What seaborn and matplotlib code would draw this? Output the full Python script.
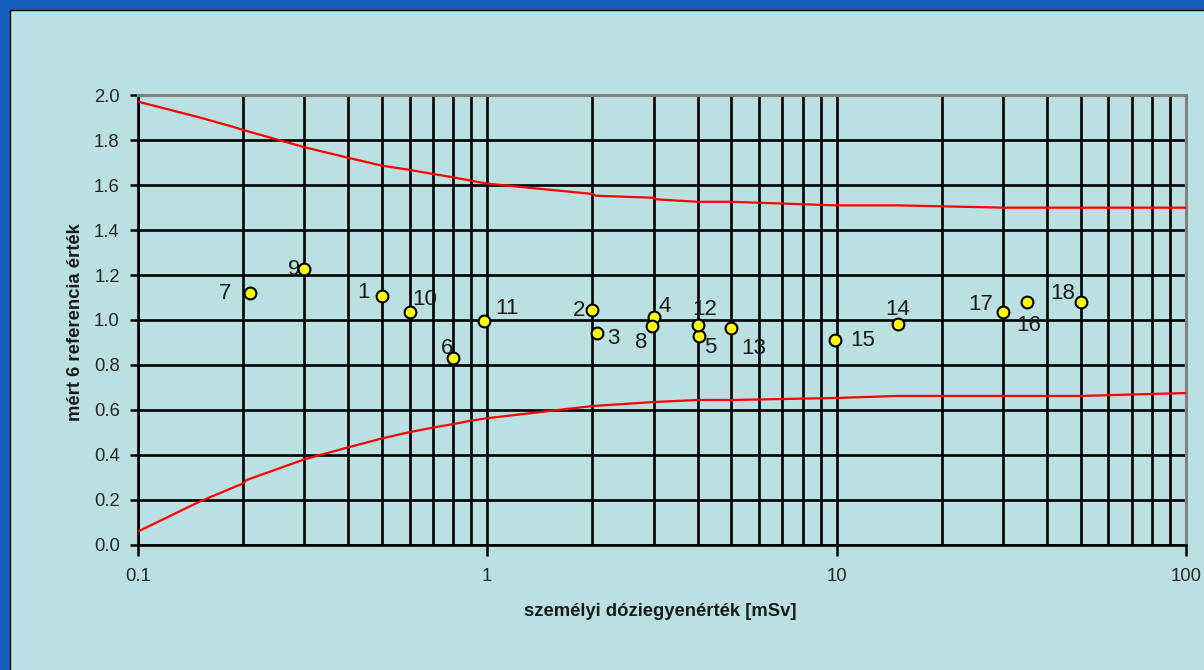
import numpy as np
import pandas as pd
import matplotlib
matplotlib.use("Agg")
import matplotlib.pyplot as plt
from matplotlib.patches import Rectangle
from matplotlib.ticker import LogLocator, FixedLocator, NullFormatter, FuncFormatter
import seaborn as sns

# Measured points: personal dose equivalent vs. reading / reference ratio
point_ids = [str(i) for i in range(1, 19)]
dose_msv = [0.5, 2.0, 2.06, 3.0, 4.04, 0.8, 0.21, 2.97, 0.3, 0.6,
            0.98, 4.0, 5.0, 15.0, 9.9, 35.0, 30.0, 50.0]
ratio = [1.108, 1.044, 0.941, 1.015, 0.929, 0.832, 1.119, 0.975, 1.226, 1.037,
         0.994, 0.978, 0.966, 0.984, 0.912, 1.081, 1.037, 1.081]

# Label offsets (pixels, right / down) for each point number
label_dx = [-18, -13, 16, 11, 11, -6, -25, -11, -10, 15, 23, 7, 22, 0, 28, 2, -23, -18]
label_dy = [-3, 0, 5, -10, 12, -9, 0, 17, 0, -12, -13, -15, 21, -14, 1, 24, -7, -8]

# Upper and lower acceptance limits
upper_x = [0.1, 0.15, 0.19, 0.2, 0.3, 0.4, 0.5, 0.6, 0.7, 0.8, 0.9, 1.0,
           2.0, 2.05, 3.0, 3.05, 4.0, 5.0, 10.0, 15.0, 30.0, 50.0, 100.0]
upper_y = [1.972, 1.902, 1.857, 1.846, 1.769, 1.722, 1.687, 1.668, 1.650, 1.635, 1.620, 1.607,
           1.561, 1.553, 1.544, 1.537, 1.526, 1.526, 1.510, 1.510, 1.500, 1.500, 1.500]
lower_x = [0.1, 0.15, 0.19, 0.2, 0.205, 0.3, 0.4, 0.5, 0.6, 0.7, 0.8, 0.9, 1.0,
           2.0, 3.0, 4.0, 5.0, 10.0, 15.0, 30.0, 50.0, 100.0]
lower_y = [0.058, 0.191, 0.258, 0.272, 0.288, 0.380, 0.433, 0.473, 0.501, 0.521, 0.537, 0.552, 0.563,
           0.617, 0.635, 0.644, 0.644, 0.653, 0.662, 0.662, 0.662, 0.675]

x_ticks = [0.1, 1, 10, 100]
x_tick_labels = ["0.1", "1", "10", "100"]
y_ticks = [0.0, 0.2, 0.4, 0.6, 0.8, 1.0, 1.2, 1.4, 1.6, 1.8, 2.0]

x_label = "személyi dóziegyenérték [mSv]"
y_label = "mért 6 referencia érték"

BORDER_BLUE = "#1560BD"
PANEL = "#BAE0E2"

sns.set_theme(style="white")
plt.rcParams["font.family"] = ["Liberation Sans", "DejaVu Sans"]

W, H = 1204, 670
fig = plt.figure(figsize=(W / 100, H / 100), dpi=100)
fig.patch.set_facecolor(BORDER_BLUE)
fig.patches.append(Rectangle((10 / W, -0.01), 1.02, (H - 10) / H + 0.01,
                             transform=fig.transFigure, facecolor=PANEL,
                             edgecolor="black", linewidth=1.0, zorder=-5))

ax_l, ax_r, ax_t, ax_b = 137.7, 1186, 95.3, 544.7
ax = fig.add_axes([ax_l / W, 1 - ax_b / H, (ax_r - ax_l) / W, (ax_b - ax_t) / H])
ax.set_facecolor(PANEL)

limits = pd.concat([
    pd.DataFrame({"dose": upper_x, "value": upper_y, "limit": "upper"}),
    pd.DataFrame({"dose": lower_x, "value": lower_y, "limit": "lower"}),
])
sns.lineplot(data=limits, x="dose", y="value", units="limit", estimator=None,
             sort=False, color="#FF0000", linewidth=1.6, ax=ax, zorder=3, legend=False)

points = pd.DataFrame({"id": point_ids, "dose": dose_msv, "ratio": ratio})
sns.scatterplot(data=points, x="dose", y="ratio", s=72, color="#FFFF00",
                edgecolor="black", linewidth=1.5, ax=ax, zorder=5, legend=False)

for pid, xv, yv, dx, dy in zip(point_ids, dose_msv, ratio, label_dx, label_dy):
    ax.annotate(pid, (xv, yv), xytext=(dx, -dy), textcoords="offset pixels",
                ha="center", va="center", fontsize=16, color="#1a1a1a", zorder=4)

ax.set_xscale("log")
ax.set_xlim(0.1, 100)
ax.set_ylim(0, 2.0)

ax.xaxis.set_major_locator(FixedLocator(x_ticks))
ax.xaxis.set_major_formatter(FuncFormatter(lambda v, p: x_tick_labels[x_ticks.index(v)] if v in x_ticks else ""))
ax.xaxis.set_minor_locator(LogLocator(base=10, subs=np.arange(2, 10)))
ax.xaxis.set_minor_formatter(NullFormatter())
ax.set_yticks(y_ticks)
ax.yaxis.set_major_formatter(FuncFormatter(lambda v, p: f"{v:.1f}"))

ax.grid(True, which="major", axis="both", color="black", linewidth=1.9)
ax.grid(True, which="minor", axis="x", color="black", linewidth=1.9)
ax.set_axisbelow(True)

ax.tick_params(axis="x", which="major", direction="out", length=8, width=1.8,
               color="black", pad=9, labelsize=13.3, bottom=True)
ax.tick_params(axis="x", which="minor", length=0)
ax.tick_params(axis="y", which="major", direction="out", length=6, width=1.8,
               color="black", pad=7, labelsize=13.3, left=True)

for side in ("left", "bottom"):
    ax.spines[side].set_color("black")
    ax.spines[side].set_linewidth(1.9)
for side in ("top", "right"):
    ax.spines[side].set_color("#808080")
    ax.spines[side].set_linewidth(2.2)
    ax.spines[side].set_zorder(2.5)

ax.set_xlabel("")
ax.set_ylabel("")
fig.text(660 / W, 1 - 612 / H, x_label, ha="center", va="center",
         fontsize=13.3, fontweight="bold", color="#1a1a1a")
fig.text(75 / W, 1 - 322 / H, y_label, ha="center", va="center", rotation=90,
         fontsize=13.3, fontweight="bold", color="#1a1a1a")

fig.savefig("out.png", dpi=100, facecolor=fig.get_facecolor())
